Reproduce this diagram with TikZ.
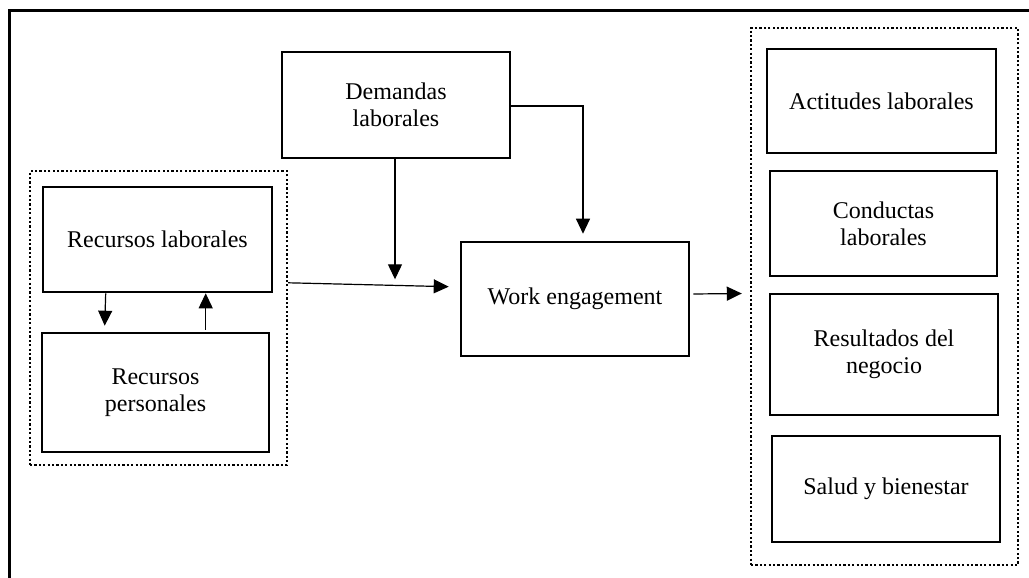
\documentclass[tikz,border=0pt]{standalone}
\usepackage{fontspec}
\setmainfont{Liberation Serif}
\usetikzlibrary{arrows.meta,calc}
\begin{document}
\begin{tikzpicture}[x=1pt,y=-1pt,
 box/.style={draw,line width=2.6pt,rectangle,align=center,inner sep=0pt,font=\fontsize{24}{27}\selectfont},
 grp/.style={draw,line width=2.4pt,dash pattern=on 2.2pt off 2.2pt,rectangle,inner sep=0pt},
 arr/.style={line width=1.2pt,-{Triangle[length=15pt,width=14pt]}}]
\clip (0,0) rectangle (1029,578);
\useasboundingbox (0,0) rectangle (1029,578);
\draw[line width=2.6pt] (9.5,600) -- (9.5,10.5) -- (1050,10.5);

\node[grp, minimum width=257, minimum height=294] (lg) at (158.5,318) {};
\node[grp, minimum width=267, minimum height=537] (rg) at (884.5,296.5) {};

\node[box, minimum width=228, minimum height=106] (dem) at (396,105) {Demandas\\laborales};
\node[box, minimum width=229, minimum height=105] (rl) at (157.5,239.5) {Recursos laborales};
\node[box, minimum width=227, minimum height=119] (rp) at (155.5,392.5) {Recursos\\personales};
\node[box, minimum width=228, minimum height=114] (we) at (575,299) {Work engagement};
\node[box, minimum width=229, minimum height=104] (act) at (881.5,101) {Actitudes laborales};
\node[box, minimum width=227, minimum height=105] (con) at (883.5,223.5) {Conductas\\laborales};
\node[box, minimum width=228, minimum height=121] (res) at (884,354.5) {Resultados del\\negocio};
\node[box, minimum width=228, minimum height=106] (sal) at (886,489) {Salud y bienestar};

\draw[arr] ($(rl.south west)+(64,0)$) -- ($(rp.north west)+(64,-6)$);
\draw[arr] ($(rp.north west)+(165,-2)$) -- ($(rl.south west)+(164,0)$);
\draw[arr] ($(lg.north east)+(0,113)$) -- ($(we.north west)+(-11,46)$);
\draw[arr] ($(dem.south)+(-1,0)$) -- ++(0,120);
\draw[arr] ($(dem.east)+(0,1)$) -| ($(we.north)+(8,-7)$);
\draw[arr] ($(we.east)+(3,-5)$) -- ($(rg.west)+(-8,-3)$);
\end{tikzpicture}
\end{document}
